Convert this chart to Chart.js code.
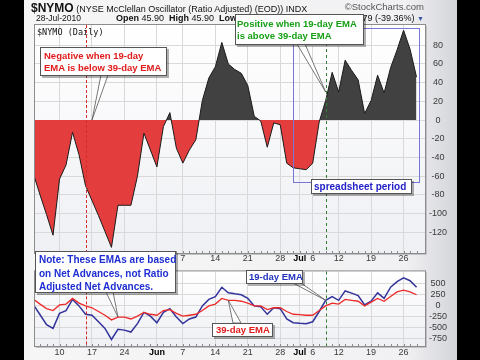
<!DOCTYPE html>
<html>
<head>
<meta charset="utf-8">
<script src="https://cdn.jsdelivr.net/npm/chart.js@4.4.1/dist/chart.umd.min.js"></script>
<style>
  html, body { margin: 0; padding: 0; background: #000; }
  #page { position: relative; width: 480px; height: 360px; overflow: hidden; background: #000;
          font-family: 'Liberation Sans', Arial, sans-serif; }
  #frame { position: absolute; left: 24px; top: 0; width: 433px; height: 360px;
           background: linear-gradient(to right, #f6f6f6 0%, #f1f1f3 88%, #d4d5da 100%); }
  canvas { position: absolute; left: 0; }
  #top { top: 0; }
  #bot { top: 262px; }
  .txt { position: absolute; white-space: nowrap; color: #111; }
  .box { position: absolute; background: #fff; border: 1px solid #555; box-sizing: border-box;
         box-shadow: 2px 2px 0 rgba(0,0,0,0.3); font-weight: bold; white-space: nowrap; }
</style>
</head>
<body>
<div id="page">
  <div id="frame"></div>
  <canvas id="top" width="480" height="266"></canvas>
  <canvas id="bot" width="480" height="98"></canvas>

  <div class="txt" style="left:31px;top:0;line-height:13px;"><b style="font-size:12px">$NYMO</b><span style="font-size:9px"> (NYSE McClellan Oscillator (Ratio Adjusted) (EOD)) INDX</span></div>
  <div class="txt" style="right:56px;top:1px;font-size:9.5px;line-height:12px;color:#555;">&copy;StockCharts.com</div>
  <div class="txt" style="left:36px;top:13px;font-size:8.5px;line-height:10px;">28-Jul-2010</div>
  <div class="txt" style="left:116px;top:13px;font-size:9px;line-height:11px;"><b>Open</b> 45.90&nbsp; <b>High</b> 45.90&nbsp; <b>Low</b> 45.90&nbsp; <b>Close</b> 45.90</div>
  <div class="txt" style="right:56px;top:13px;font-size:9px;line-height:11px;"><b>Chg</b> -29.79 (-39.36%) <span style="color:#3a55a8;font-size:7px">&#9660;</span></div>
  <div class="txt" style="left:37px;top:27px;font-size:8.5px;line-height:10px;font-family:'DejaVu Sans Mono',monospace;">$NYMO (Daily)</div>

  <div class="box" style="left:40px;top:47px;width:127px;height:29px;color:#e01b1b;font-size:9.5px;line-height:12px;padding:2px 0 0 3px;">Negative when 19-day<br>EMA is below 39-day EMA</div>
  <div class="box" style="left:235px;top:14px;width:129px;height:31px;color:#17a017;font-size:9.5px;line-height:12px;padding:3px 0 0 1px;">Positive when 19-day EMA<br>is above 39-day EMA</div>
  <div class="box" style="left:311px;top:179px;width:101px;height:15px;color:#2222c8;font-size:10px;line-height:13px;padding-left:2px;">spreadsheet period</div>
  <div class="box" style="left:35px;top:251px;width:141px;height:42px;color:#1e2ed2;font-size:10px;line-height:13.5px;padding:1px 0 0 3px;">Note: These EMAs are based<br>on Net Advances, not Ratio<br>Adjusted Net Advances.</div>
  <div class="box" style="left:246px;top:270px;width:57px;height:14px;color:#2233bb;font-size:9.5px;line-height:12px;padding-left:2px;">19-day EMA</div>
  <div class="box" style="left:212px;top:323px;width:61px;height:14px;color:#e01b1b;font-size:9.5px;line-height:12px;padding-left:3px;">39-day EMA</div>
</div>
<script>
// trading days shown, 4 May to 28 Jul 2010
const dates = [
  'May 4','May 5','May 6','May 7','May 10','May 11','May 12','May 13','May 14',
  'May 17','May 18','May 19','May 20','May 21','May 24','May 25','May 26','May 27','May 28',
  'Jun 1','Jun 2','Jun 3','Jun 4','Jun 7','Jun 8','Jun 9','Jun 10','Jun 11',
  'Jun 14','Jun 15','Jun 16','Jun 17','Jun 18','Jun 21','Jun 22','Jun 23','Jun 24','Jun 25',
  'Jun 28','Jun 29','Jun 30','Jul 1','Jul 2','Jul 6','Jul 7','Jul 8','Jul 9',
  'Jul 12','Jul 13','Jul 14','Jul 15','Jul 16','Jul 19','Jul 20','Jul 21','Jul 22','Jul 23',
  'Jul 26','Jul 27','Jul 28'
];

// McClellan oscillator (ratio adjusted)
const nymo = [
  -58, -80, -101, -123, -63, -48, -13, -37, -70, -86,
  -102, -119, -136, -91, -91, -91, -60, -14, -32, -50,
  -7, 8, -30, -46, -32, -21, 21, 45, 57, 83,
  60, 54, 50, 37, 4, -1, -29, -3, -5, -46,
  -51, -52, -53, -46, -2, 21, 51, 30, 64, 53,
  43, 7, 21, 48, 29, 56, 75, 96, 75.69, 45.90
];

// EMAs of net advances
const ema19 = [
  20, -200, -424, -510, -170, -106, 148, 0, -190, -212,
  -360, -510, -763, -530, -550, -594, -403, -148, -233, -382,
  -148, -64, -254, -403, -297, -254, 0, 148, 212, 424,
  300, 275, 254, 170, 0, -21, -190, -42, -64, -297,
  -382, -395, -403, -360, -127, 127, 212, 127, 340, 290,
  233, 21, 106, 297, 170, 424, 551, 636, 572, 424
];
const ema39 = [
  150, 40, -60, -106, 21, 42, 170, 64, 0, -42,
  -127, -212, -318, -254, -254, -297, -233, -148, -190, -212,
  -106, -85, -170, -233, -212, -190, -106, 0, 42, 170,
  127, 127, 106, 64, 0, 0, -85, -42, -42, -127,
  -190, -200, -212, -212, -106, 0, 64, 42, 148, 127,
  106, 0, 85, 170, 106, 212, 318, 360, 318, 254
];

const tickDates = ['May 10','May 17','May 24','Jun 1','Jun 7','Jun 14','Jun 21','Jun 28','Jul 1','Jul 6','Jul 12','Jul 19','Jul 26'];
const tickLabels = ['10','17','24','Jun','7','14','21','28','Jul','6','12','19','26'];
const months = ['Jun', 'Jul'];
const nymoTicks = [80, 60, 40, 20, 0, -20, -40, -60, -80, -100, -120];
const emaTicks = [500, 250, 0, -250, -500, -750];

Chart.defaults.font.family = "'Liberation Sans', Arial, sans-serif";
Chart.defaults.color = '#333';

const at = d => dates.indexOf(d);
const pts = values => values.map((v, i) => ({x: i, y: v}));
function labelAt(i) {
  const k = tickDates.indexOf(dates[i]);
  return k < 0 ? '' : tickLabels[k];
}

function xAxis(height, padding) {
  return {
    type: 'linear', min: 0.22, max: 60.3,
    afterBuildTicks: s => { s.ticks = dates.map((d, i) => ({value: i})).filter(t => t.value > s.min); },
    afterFit: s => { s.height = height; },
    ticks: {
      autoSkip: false, maxRotation: 0, padding: padding,
      callback: v => labelAt(v),
      font: c => ({size: 9, weight: c.tick && months.includes(labelAt(c.tick.value)) ? 'bold' : 'normal'}),
      color: c => c.tick && months.includes(labelAt(c.tick.value)) ? '#000' : '#3a3a3a'
    },
    grid: { drawTicks: false, color: c => c.tick && labelAt(c.tick.value) ? '#d9d9d9' : 'rgba(0,0,0,0)' },
    border: { display: false }
  };
}

function yAxis(min, max, values) {
  return {
    position: 'right', min: min, max: max,
    afterBuildTicks: s => { s.ticks = values.map(v => ({value: v})); },
    afterFit: s => { s.width = 27; },
    ticks: { padding: 4, crossAlign: 'center', font: {size: 9}, color: '#3a3a3a' },
    grid: { drawTicks: false, color: '#d9d9d9' },
    border: { display: false }
  };
}

// background, border, dashed markers, callouts
function decor(cfg) {
  return {
    id: 'decor',
    beforeDraw(chart) {
      const {ctx, chartArea: a} = chart;
      ctx.save();
      const g = ctx.createLinearGradient(0, a.top, 0, a.bottom);
      g.addColorStop(0, '#ffffff');
      g.addColorStop(1, '#eff0f4');
      ctx.fillStyle = g;
      ctx.fillRect(a.left, a.top, a.width, a.height);
      ctx.restore();
    },
    afterDatasetsDraw(chart) {
      const {ctx, chartArea: a, scales: {x, y}} = chart;
      ctx.save();
      // small day ticks on the bottom edge
      ctx.strokeStyle = '#8a8a8a';
      ctx.lineWidth = 1;
      dates.forEach((d, i) => {
        const px = Math.round(x.getPixelForValue(i)) + 0.5;
        if (px < a.left) return;
        ctx.beginPath();
        ctx.moveTo(px, a.bottom);
        ctx.lineTo(px, a.bottom - 2);
        ctx.stroke();
      });
      cfg.markers.forEach(m => {
        const px = Math.round(x.getPixelForValue(m.at)) + 0.5;
        ctx.strokeStyle = m.color;
        ctx.setLineDash(m.dash);
        ctx.beginPath();
        ctx.moveTo(px, a.top);
        ctx.lineTo(px, a.bottom);
        ctx.stroke();
      });
      ctx.setLineDash([]);
      if (cfg.rect) {
        const r = cfg.rect;
        const x0 = Math.round(x.getPixelForValue(r.x0)) + 0.5, x1 = Math.round(x.getPixelForValue(r.x1)) + 0.5;
        const y0 = Math.round(y.getPixelForValue(r.y1)) + 0.5, y1 = Math.round(y.getPixelForValue(r.y0)) + 0.5;
        ctx.strokeStyle = '#7676d6';
        ctx.strokeRect(x0, y0, x1 - x0, y1 - y0);
      }
      // plot frame
      ctx.strokeStyle = '#8c8c8c';
      ctx.strokeRect(a.left - 0.5, a.top - 0.5, a.width + 1, a.height + 1);
      ctx.strokeStyle = '#c2c2c6';
      ctx.beginPath();
      ctx.moveTo(a.right + 1.5, a.top + 1);
      ctx.lineTo(a.right + 1.5, a.bottom + 1.5);
      ctx.lineTo(a.left + 1, a.bottom + 1.5);
      ctx.stroke();
      // callout wedges
      cfg.callouts.forEach(c => {
        const tx = x.getPixelForValue(c.tip[0]), ty = y.getPixelForValue(c.tip[1]);
        ctx.beginPath();
        ctx.moveTo(c.base[0][0], c.base[0][1] - cfg.offsetY);
        ctx.lineTo(tx, ty);
        ctx.lineTo(c.base[1][0], c.base[1][1] - cfg.offsetY);
        ctx.closePath();
        ctx.fillStyle = '#ffffff';
        ctx.fill();
        ctx.strokeStyle = '#555';
        ctx.lineWidth = 0.8;
        ctx.stroke();
        ctx.lineWidth = 1;
      });
      ctx.restore();
    }
  };
}

const markers = [
  {at: at('May 14'), color: '#d42a2a', dash: [3, 2]},
  {at: at('Jul 8'), color: '#2f7d2f', dash: [3, 3]}
];

new Chart(document.getElementById('top'), {
  type: 'line',
  data: {
    datasets: [{
      data: pts(nymo),
      borderColor: '#1c1c1c',
      borderWidth: 1,
      pointRadius: 0,
      tension: 0,
      fill: {target: 'origin', above: '#414141', below: '#e43d3d'}
    }]
  },
  options: {
    responsive: false,
    animation: false,
    events: [],
    layout: {padding: {left: 35, right: 28, top: 25, bottom: 0}},
    plugins: {legend: {display: false}, tooltip: {enabled: false}},
    scales: {x: xAxis(13, 0), y: yAxis(-142, 101.6, nymoTicks)}
  },
  plugins: [decor({
    offsetY: 0,
    markers: markers,
    rect: {x0: at('Jun 30'), x1: at('Jul 28') + 0.4, y0: -66, y1: 98},
    callouts: [
      {base: [[101, 75], [108, 75]], tip: [at('May 17'), 0]},
      {base: [[297, 44], [305, 44]], tip: [at('Jul 8'), 30]}
    ]
  })]
});

new Chart(document.getElementById('bot'), {
  type: 'line',
  data: {
    datasets: [
      {data: pts(ema39), borderColor: '#ee2b2b', borderWidth: 1.3, pointRadius: 0, tension: 0},
      {data: pts(ema19), borderColor: '#33339c', borderWidth: 1.5, pointRadius: 0, tension: 0}
    ]
  },
  options: {
    responsive: false,
    animation: false,
    events: [],
    layout: {padding: {left: 35, right: 28, top: 4, bottom: 0}},
    plugins: {legend: {display: false}, tooltip: {enabled: false}},
    scales: {x: xAxis(14, 1.5), y: yAxis(-911, 784, emaTicks)}
  },
  plugins: [decor({
    offsetY: 262,
    markers: markers,
    rect: null,
    callouts: [
      {base: [[106, 292], [113, 292]], tip: [at('May 21'), ema39[at('May 21')]]},
      {base: [[293, 283], [301, 283]], tip: [at('Jul 8'), ema19[at('Jul 8')]]},
      {base: [[233, 323], [241, 323]], tip: [at('Jun 16'), ema39[at('Jun 16')]]}
    ]
  })]
});
</script>
</body>
</html>
